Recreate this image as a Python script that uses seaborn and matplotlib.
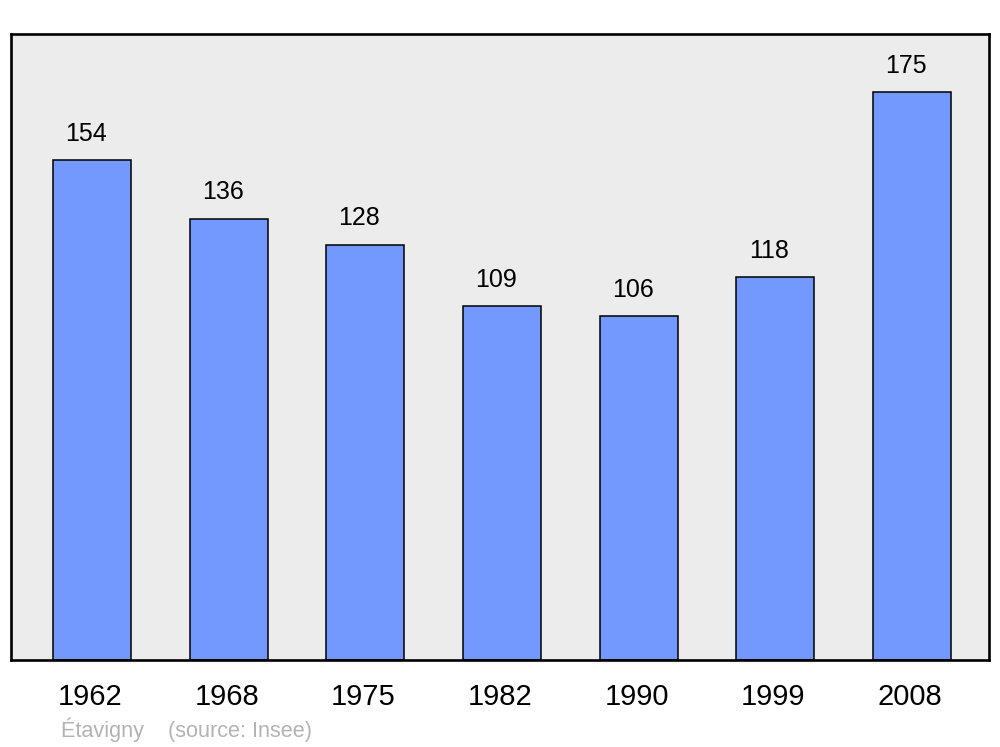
import seaborn as sns
import matplotlib.pyplot as plt
import matplotlib.transforms as mtransforms
import pandas as pd

years = ['1962', '1968', '1975', '1982', '1990', '1999', '2008']
population = [154, 136, 128, 109, 106, 118, 175]

sns.set_style('white')
plt.rcParams['font.family'] = ['Liberation Sans', 'DejaVu Sans']
plt.rcParams['text.color'] = 'black'
plt.rcParams['xtick.color'] = 'black'

df = pd.DataFrame({'annee': years, 'pop': population})

fig = plt.figure(figsize=(10, 7.47), dpi=100)
ax = fig.add_axes([0.011, 0.1165, 0.978, 0.838])
ax.set_facecolor('#ececec')

sns.barplot(data=df, x='annee', y='pop', order=years, color='#7399ff',
            saturation=1, width=0.57, edgecolor='black', linewidth=1.1, ax=ax)

# valeurs au-dessus des barres
for i, v in enumerate(population):
    ax.annotate(str(v), (i, v), xytext=(-4.3, 19), textcoords='offset points',
                ha='center', va='center', fontsize=18, color='black')

ax.set_xlim(-0.593, 6.563)
ax.set_ylim(0, 192.9)
ax.set_xlabel('')
ax.set_ylabel('')
ax.set_yticks([])
ax.tick_params(axis='x', length=0, pad=16.5, labelsize=21, labelcolor='black')
shift = mtransforms.ScaledTranslation(-2 / 100, 0, fig.dpi_scale_trans)
for lab in ax.get_xticklabels():
    lab.set_transform(lab.get_transform() + shift)
for s in ax.spines.values():
    s.set_visible(True)
    s.set_linewidth(1.9)
    s.set_color('black')
    s.set_joinstyle('round')

fig.text(61, 747 - 730, 'Étavigny    (source: Insee)', color='#b3b3b3',
         fontsize=15.6, va='center', ha='left', transform=None)

fig.savefig('out.png', dpi=100)
